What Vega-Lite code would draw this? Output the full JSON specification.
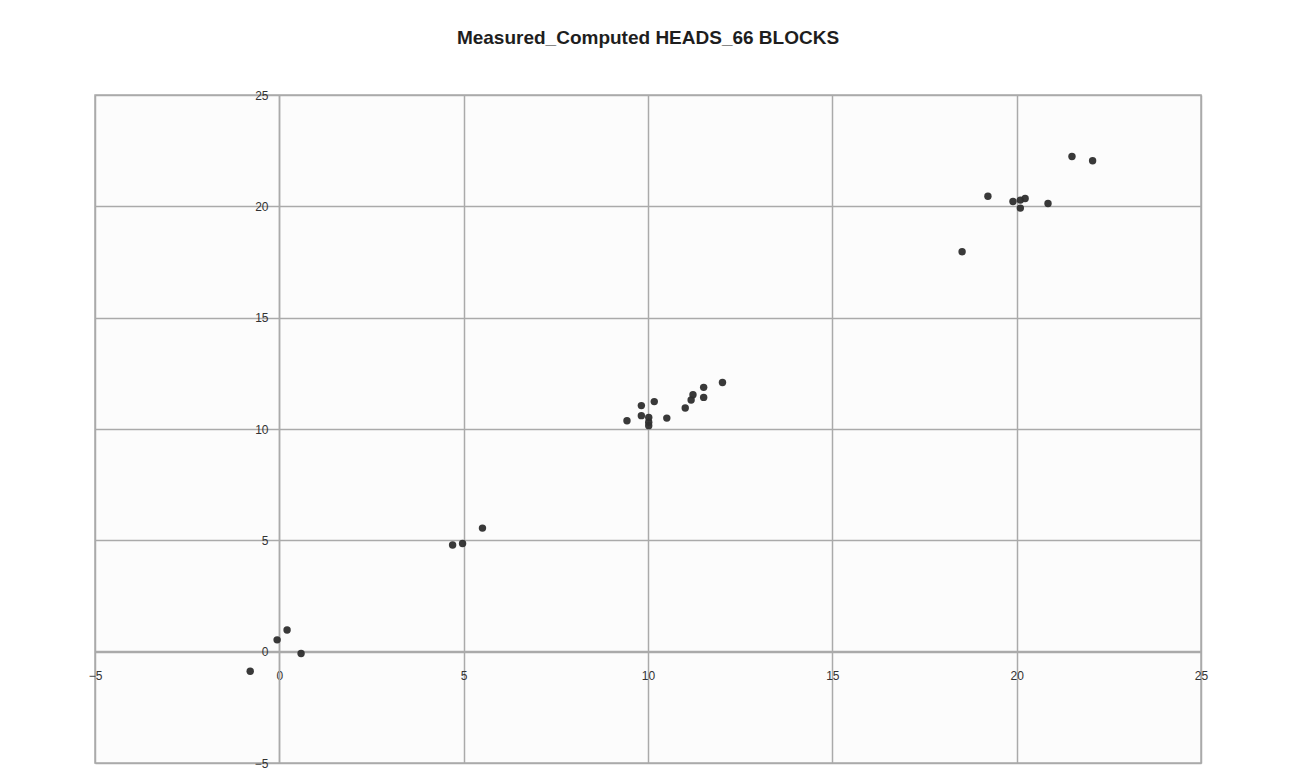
{
  "$schema": "https://vega.github.io/schema/vega-lite/v6.json",
  "width": 1106,
  "height": 668,
  "autosize": {"type": "none"},
  "padding": {"left": 95, "top": 95, "right": 88, "bottom": 17},
  "background": "white",
  "title": {
    "text": "Measured_Computed HEADS_66 BLOCKS",
    "fontSize": 19,
    "fontWeight": "bold",
    "font": "Liberation Sans",
    "color": "#1e1e1e",
    "anchor": "middle",
    "offset": 41
  },
  "config": {
    "view": {"stroke": "#aaaaaa", "strokeWidth": 1.5, "fill": "#fcfcfc"}
  },
  "data": {
    "values": [
      {"measured": -0.79, "computed": -0.88},
      {"measured": -0.06, "computed": 0.53},
      {"measured": 0.21, "computed": 0.97},
      {"measured": 0.59, "computed": -0.08},
      {"measured": 4.70, "computed": 4.79},
      {"measured": 4.97, "computed": 4.86},
      {"measured": 5.51, "computed": 5.55},
      {"measured": 9.43, "computed": 10.37},
      {"measured": 9.82, "computed": 11.05},
      {"measured": 9.82, "computed": 10.60},
      {"measured": 10.02, "computed": 10.52},
      {"measured": 10.02, "computed": 10.30},
      {"measured": 10.02, "computed": 10.15},
      {"measured": 10.17, "computed": 11.23},
      {"measured": 10.51, "computed": 10.49},
      {"measured": 11.01, "computed": 10.94},
      {"measured": 11.17, "computed": 11.30},
      {"measured": 11.22, "computed": 11.54},
      {"measured": 11.51, "computed": 11.87},
      {"measured": 11.51, "computed": 11.42},
      {"measured": 12.02, "computed": 12.09},
      {"measured": 18.52, "computed": 17.96},
      {"measured": 19.22, "computed": 20.45},
      {"measured": 19.90, "computed": 20.22},
      {"measured": 20.10, "computed": 20.28},
      {"measured": 20.23, "computed": 20.35},
      {"measured": 20.10, "computed": 19.92},
      {"measured": 20.85, "computed": 20.13},
      {"measured": 21.50, "computed": 22.24},
      {"measured": 22.06, "computed": 22.05}
    ]
  },
  "mark": {"type": "point", "filled": true, "shape": "circle", "size": 55, "color": "#2e2e2e", "opacity": 0.95},
  "encoding": {
    "x": {
      "field": "measured",
      "type": "quantitative",
      "scale": {"domain": [-5, 25], "nice": false, "zero": false},
      "axis": {
        "title": null,
        "values": [-5, 0, 5, 10, 15, 20, 25],
        "offset": -112,
        "grid": true,
        "gridColor": "#aaaaaa",
        "gridWidth": 1.5,
        "domain": true,
        "domainColor": "#aaaaaa",
        "domainWidth": 1.5,
        "ticks": false,
        "labelPadding": 19,
        "labelFontSize": 12,
        "labelColor": "#333333",
        "labelFont": "Liberation Sans",
        "labelFlush": false,
        "labelOverlap": false
      }
    },
    "y": {
      "field": "computed",
      "type": "quantitative",
      "scale": {"domain": [-5, 25], "nice": false, "zero": false},
      "axis": {
        "title": null,
        "values": [-5, 0, 5, 10, 15, 20, 25],
        "offset": -184,
        "grid": true,
        "gridColor": "#aaaaaa",
        "gridWidth": 1.5,
        "domain": true,
        "domainColor": "#aaaaaa",
        "domainWidth": 1.5,
        "ticks": false,
        "labelPadding": 11,
        "labelFontSize": 12,
        "labelColor": "#333333",
        "labelFont": "Liberation Sans",
        "labelFlush": false,
        "labelOverlap": false
      }
    }
  }
}
